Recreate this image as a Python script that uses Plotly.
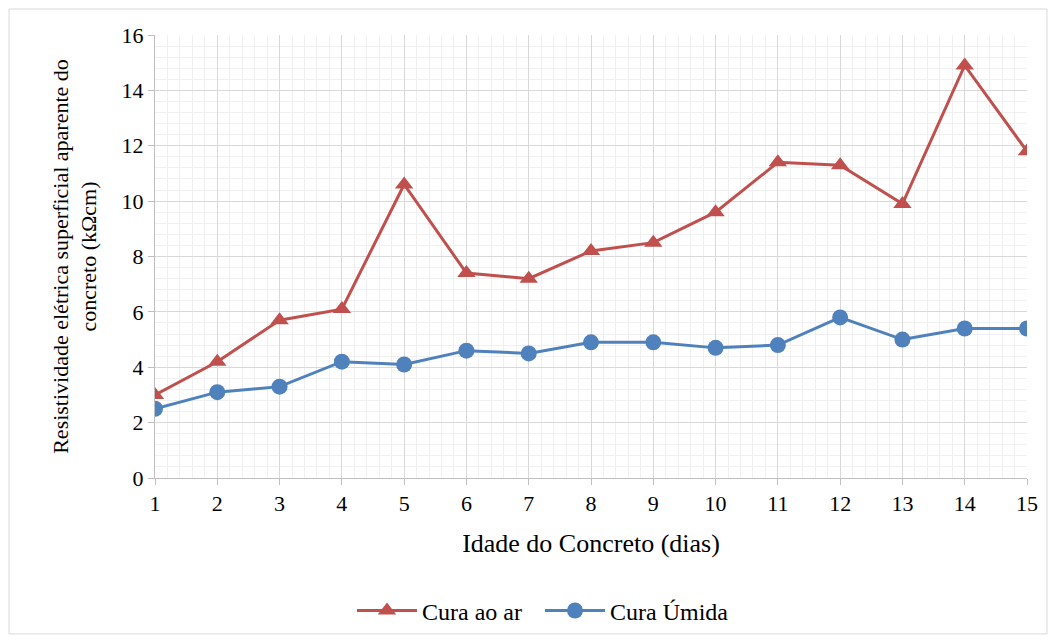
import plotly.graph_objects as go

# Dados
idade = list(range(1, 16))
cura_ar = [3.0, 4.2, 5.7, 6.1, 10.6, 7.4, 7.2, 8.2, 8.5, 9.6, 11.4, 11.3, 9.9, 14.9, 11.8]
cura_umida = [2.5, 3.1, 3.3, 4.2, 4.1, 4.6, 4.5, 4.9, 4.9, 4.7, 4.8, 5.8, 5.0, 5.4, 5.4]

fonte = "Liberation Serif, Times New Roman, serif"

fig = go.Figure()

fig.add_trace(go.Scatter(
    x=idade, y=cura_ar, name="Cura ao ar", mode="lines+markers",
    line=dict(color="#C0504D", width=3),
    marker=dict(symbol="triangle-up", size=16, color="#C0504D"),
    legend="legend"
))

fig.add_trace(go.Scatter(
    x=idade, y=cura_umida, name="Cura Úmida", mode="lines+markers",
    line=dict(color="#4F81BD", width=3),
    marker=dict(symbol="circle", size=16, color="#4F81BD"),
    legend="legend2"
))

leg = dict(orientation="h", xanchor="left", y=-0.30, yanchor="middle",
           font=dict(size=24), itemwidth=60, bgcolor="rgba(0,0,0,0)")

# a página tem 8px de margem no body, por isso 1040x627
fig.update_layout(
    width=1040, height=627,
    margin=dict(l=147, r=21, t=27, b=157, autoexpand=False),
    paper_bgcolor="white", plot_bgcolor="white",
    font=dict(family=fonte, size=22, color="black"),
    showlegend=True,
    legend=dict(leg, x=0.2259),
    legend2=dict(leg, x=0.4415),
    xaxis=dict(
        range=[1, 15], tickmode="linear", tick0=1, dtick=1,
        showgrid=True, gridcolor="#d9d9d9", gridwidth=1,
        minor=dict(dtick=0.2, showgrid=True, gridcolor="#f0f0f0", gridwidth=1),
        showline=True, linecolor="#bfbfbf", linewidth=1,
        ticks="outside", ticklen=6, tickcolor="#bfbfbf",
        zeroline=False, automargin=False,
        title=dict(text="Idade do Concreto (dias)", font=dict(size=26), standoff=18),
    ),
    yaxis=dict(
        range=[0, 16], tickmode="linear", tick0=0, dtick=2,
        showgrid=True, gridcolor="#d9d9d9", gridwidth=1,
        minor=dict(dtick=0.4, showgrid=True, gridcolor="#f0f0f0", gridwidth=1),
        showline=True, linecolor="#bfbfbf", linewidth=1,
        ticks="outside", ticklen=6, tickcolor="#bfbfbf",
        zeroline=False, automargin=False,
        title=dict(text="Resistividade elétrica superficial aparente do<br>concreto (kΩcm)",
                   font=dict(size=22), standoff=18),
    ),
    shapes=[dict(
        type="rect", xref="paper", yref="paper",
        x0=-0.1674, x1=1.0229, y0=-0.352, y1=1.0587,
        line=dict(color="#d9d9d9", width=1), layer="below"
    )],
)

fig.write_html("out.html")
